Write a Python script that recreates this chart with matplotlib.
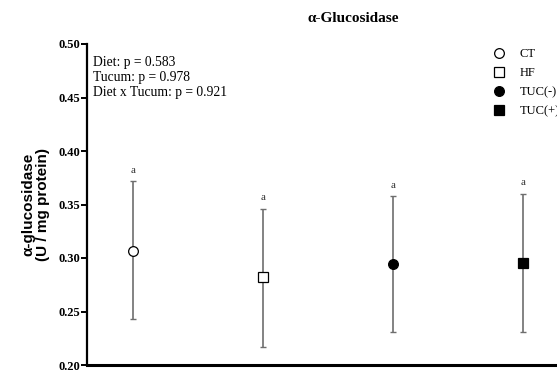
import numpy as np
import matplotlib.pyplot as plt
from matplotlib.lines import Line2D

# data
groups = ["CT", "HF", "TUC(-)", "TUC(+)"]
means = [0.307, 0.282, 0.294, 0.295]
upper = [0.372, 0.346, 0.358, 0.360]
lower = [0.243, 0.217, 0.231, 0.231]
letters = ["a", "a", "a", "a"]
markers = ["o", "s", "o", "s"]
faces = ["white", "white", "black", "black"]
stats_text = ["Diet: p = 0.583", "Tucum: p = 0.978", "Diet x Tucum: p = 0.921"]

serif = "Liberation Serif"
sans = "Liberation Sans"

fig = plt.figure(figsize=(5.57, 3.71), dpi=100)
ax = fig.add_axes([87 / 557, 6 / 371, 470 / 557, 321 / 371])

x = np.arange(len(groups))
m = np.array(means)
err = [m - np.array(lower), np.array(upper) - m]
ax.errorbar(x, m, yerr=err, fmt="none", ecolor="#6e6e6e", elinewidth=1.2,
            capsize=2, capthick=1, zorder=1)
for i in range(len(groups)):
    ax.plot(x[i], m[i], marker=markers[i], mfc=faces[i], mec="black",
            mew=0.9, ms=7 if markers[i] == "o" else 7.5, ls="none", zorder=3)
    ax.text(x[i], upper[i] + 0.006, letters[i], ha="center", va="bottom",
            fontsize=8, family=serif, color="#333333")

ax.set_xlim(-0.354, 3.26)
ax.set_ylim(0.20, 0.50)
ax.set_yticks([0.20, 0.25, 0.30, 0.35, 0.40, 0.45, 0.50])
ax.set_yticklabels([f"{v:.2f}" for v in ax.get_yticks()],
                   family=serif, fontweight="bold", fontsize=9)
ax.set_xticks([])
ax.spines["top"].set_visible(False)
ax.spines["right"].set_visible(False)
ax.spines["left"].set_linewidth(1.6)
ax.spines["bottom"].set_linewidth(2.2)
ax.tick_params(axis="y", length=4, width=1.4, pad=1)

ax.set_ylabel("α-glucosidase\n(U / mg protein)", family=sans,
              fontweight="bold", fontsize=11, labelpad=6, linespacing=1.05)

ax.text(0.012, 0.963, "\n".join(stats_text), transform=ax.transAxes,
        ha="left", va="top", family=serif, fontsize=9.8, linespacing=1.2)

fig.text(353 / 557, 1 - 18 / 371, "α-Glucosidase", ha="center", va="center",
         family=serif, fontweight="bold", fontsize=11)

handles = [Line2D([], [], marker=markers[i], mfc=faces[i], mec="black",
                  mew=0.9, ms=7, ls="none") for i in range(len(groups))]
leg = fig.legend(handles, groups, loc="upper left",
                 bbox_to_anchor=(480 / 557, 1 - 37 / 371), frameon=False,
                 prop={"family": serif, "size": 9}, labelspacing=0.55,
                 handletextpad=1.05, handlelength=1.2)

fig.savefig("out.png", dpi=100)
